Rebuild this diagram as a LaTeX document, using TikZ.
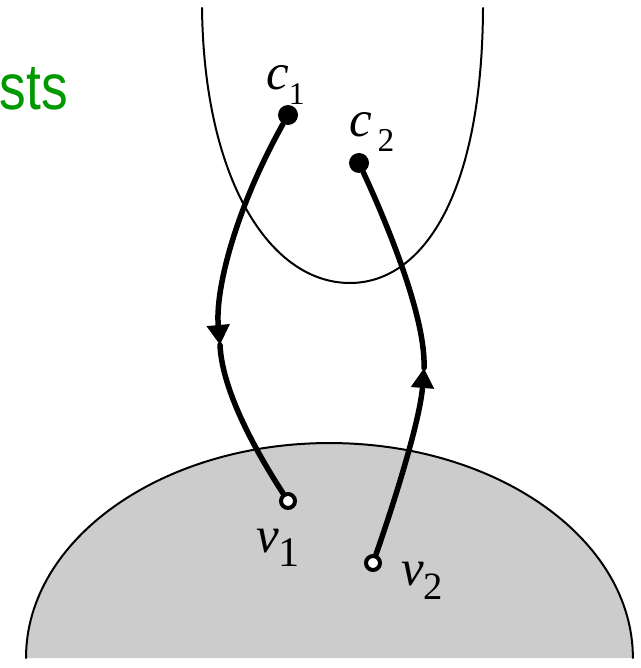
\documentclass[tikz,border=0pt]{standalone}
\usepackage{fontspec}
\setmainfont{Liberation Serif}
\newfontfamily\headfont{Liberation Sans}
\usetikzlibrary{arrows.meta}
\definecolor{titlegreen}{HTML}{009900}
\definecolor{domegray}{HTML}{CCCCCC}
\tikzset{
  every picture/.style={line join=round, line cap=round, >=Stealth},
  outline/.style={line width=0.04cm},
  wire/.style={line width=0.11cm},
  tip/.style={-{Triangle[length=0.4cm,width=0.44cm]}},
  dot/.style={circle, fill, inner sep=0pt, minimum size=0.4cm},
  hollow/.style={circle, draw, fill=white, line width=0.08cm, inner sep=0pt, minimum size=0.28cm},
  lab/.style={anchor=base west, inner sep=0pt},
}
\newcommand{\varlab}[3]{{\fontsize{29}{29}\selectfont\itshape #1}\raisebox{-8pt}{\fontsize{#3}{#3}\selectfont #2}}

\begin{document}
\begin{tikzpicture}[x=0.02cm,y=-0.02cm]
\useasboundingbox (0,0) rectangle (641,668);
% grey region and the open curve
\fill[domegray] (26,658) arc[start angle=180,end angle=0,x radius=6.07cm,y radius=4.3cm] -- cycle;
\draw[outline] (26,658) arc[start angle=180,end angle=0,x radius=6.07cm,y radius=4.3cm];
\draw[outline] (202,8) .. controls (204,180) and (270,283) .. (350,283) .. controls (420,283) and (482,200) .. (483,8);
\node[anchor=base east, inner sep=0pt, text=titlegreen, xscale=0.82] (title) at (68,110) {\headfont\fontsize{37}{37}\selectfont sts};
% points
\node[dot] (c1) at (288,115) {};
\node[dot] (c2) at (359,163) {};
\node[hollow] (v1) at (288,501) {};
\node[hollow] (v2) at (373,563) {};
\coordinate (m1) at (220,345);
\coordinate (m2) at (424,368);
% paths
\draw[wire,tip] (c1) .. controls (235,210) and (215,290) .. (m1);
\draw[wire] (m1) .. controls (222,390) and (255,450) .. (v1);
\draw[wire,tip] (v2) .. controls (395,500) and (420,420) .. (m2);
\draw[wire] (m2) .. controls (426,320) and (390,230) .. (c2);
% labels
\node[lab] (c1lab) at (266,90) {\varlab{c}{1}{18}};
\node[lab] (c2lab) at (349,137) {\varlab{c}{\,2}{19}};
\node[lab] (v1lab) at (256,552) {\varlab{v}{1}{24}};
\node[lab] (v2lab) at (401,585) {\varlab{v}{2}{22}};
\end{tikzpicture}
\end{document}
